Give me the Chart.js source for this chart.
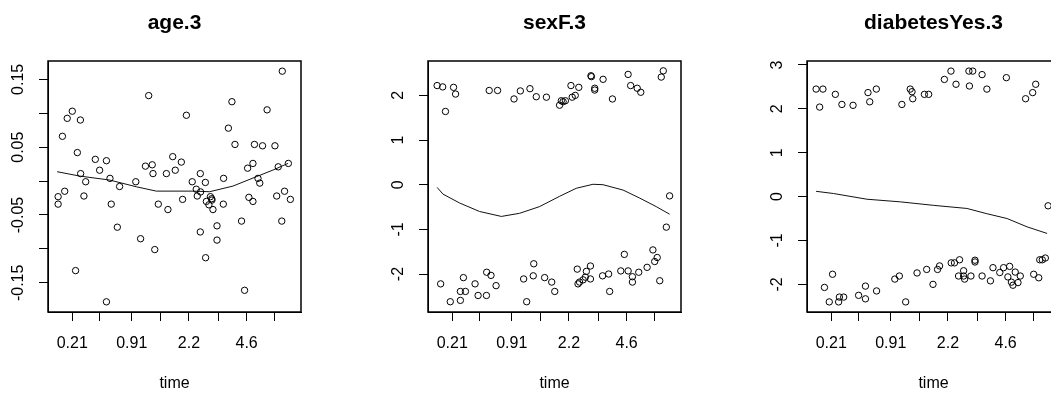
<!DOCTYPE html>
<html>
<head>
    <title>cox.zph residual plots</title>
    <meta charset="UTF-8">
    <script src="https://cdn.jsdelivr.net/npm/chart.js"></script>
    <style>
        html, body { margin: 0; padding: 0; background: #fff; overflow: hidden; width: 1051px; height: 396px; }
        canvas { position: absolute; top: 0; }
    </style>
</head>
<body>
    <canvas id="p1" width="350" height="396" style="left:0px"></canvas>
    <canvas id="p2" width="350" height="396" style="left:380px"></canvas>
    <canvas id="p3" width="350" height="396" style="left:759px"></canvas>
<script>
    // x axis: transformed time (percent of plotting range), same for all panels
    var timeTicks = [9.6, 20.3, 33.1, 44.5, 55.7, 67.4, 78.5, 89.7];
    var timeLabels = ['0.21', '', '0.91', '', '2.2', '', '4.6', ''];

    // age.3
    var ageX = [92.6, 39.8, 72.7, 9.6, 7.6, 12.8, 54.7, 86.6, 71.3, 5.7, 73.9, 81.6, 84.8, 89.7, 11.6, 18.7, 23.1, 20.4, 49.3, 52.7,
        41.2, 38.5, 41.5, 46.8, 50.3, 12.9, 14.9, 24.5, 28.3, 34.7, 60.2, 57.0, 62.2, 58.6, 60.3, 59.0, 64.2, 62.6, 64.8, 63.6,
        65.2, 69.4, 69.3, 78.9, 81.0, 83.0, 83.7, 91.0, 95.0, 4.0, 4.0, 6.6, 14.2, 25.0, 43.6, 47.4, 53.2, 79.4, 81.0, 90.4,
        93.5, 95.8, 27.4, 36.6, 42.2, 60.2, 66.8, 66.8, 76.5, 92.4, 62.3, 10.9, 23.1, 77.7, 64.7];
    var ageY = [0.162, 0.126, 0.117, 0.103, 0.0925, 0.090, 0.097, 0.105, 0.078, 0.066, 0.054, 0.054, 0.052, 0.052, 0.042, 0.032, 0.030, 0.016, 0.036, 0.028,
        0.024, 0.022, 0.011, 0.011, 0.016, 0.011, -0.001, 0.004, -0.008, -0.001, 0.011, -0.001, -0.002, -0.012, -0.016, -0.022, -0.023, -0.030, -0.028, -0.035,
        -0.042, 0.004, -0.034, 0.019, 0.026, 0.004, -0.003, 0.021, 0.026, -0.023, -0.034, -0.015, -0.022, -0.034, -0.034, -0.042, -0.027, -0.024, -0.030, -0.022,
        -0.015, -0.027, -0.068, -0.085, -0.101, -0.075, -0.066, -0.087, -0.059, -0.059, -0.113, -0.132, -0.178, -0.161, -0.026];
    var ageFitX = [3.6, 12.5, 24.4, 34.9, 42.8, 57.3, 63.9, 73.1, 82.3, 88.9, 94.9];
    var ageFitY = [0.0138, 0.0074, 0.0015, -0.0084, -0.0148, -0.0148, -0.0157, -0.0074, 0.0064, 0.0162, 0.0261];
    var ageTicks = [-0.15, -0.10, -0.05, 0, 0.05, 0.10, 0.15];
    var ageLabels = ['-0.15', '', '-0.05', '', '0.05', '', '0.15'];

    // sexF.3
    var sexX = [3.6, 5.8, 10.1, 10.9, 6.9, 24.2, 27.5, 34.0, 36.5, 40.3, 42.8, 46.8, 52.0, 52.7, 54.3, 56.5, 57.0, 58.2, 59.6, 64.4,
        64.6, 65.9, 65.9, 69.2, 72.9, 79.1, 80.1, 82.7, 84.1, 93.0, 92.2, 53.4,
        5.0, 8.8, 12.8, 12.8, 14.8, 14.0, 18.6, 19.8, 23.1, 23.2, 24.9, 26.9, 37.8, 39.0, 41.8, 41.6, 46.1, 48.9, 50.1, 59.0,
        59.3, 59.9, 61.3, 62.2, 62.6, 64.2, 64.2, 69.0, 71.4, 71.8, 76.2, 77.6, 79.1, 80.8, 80.8, 83.3, 86.6, 88.9, 89.6, 90.6,
        91.6, 94.2, 95.5];
    var sexY = [2.22, 2.19, 2.18, 2.03, 1.64, 2.11, 2.11, 1.92, 2.10, 2.15, 1.97, 1.96, 1.78, 1.88, 1.88, 2.22, 1.96, 2.00, 2.18, 2.44,
        2.42, 2.16, 2.12, 2.36, 1.92, 2.47, 2.22, 2.16, 2.07, 2.55, 2.41, 1.86,
        -2.22, -2.62, -2.59, -2.39, -2.39, -2.08, -2.22, -2.48, -2.48, -1.96, -2.03, -2.26, -2.11, -2.62, -1.77, -2.04, -2.08, -2.18, -2.39, -1.89,
        -2.22, -2.18, -2.13, -2.07, -1.94, -1.82, -2.11, -2.04, -2.00, -2.39, -1.93, -1.56, -1.93, -2.06, -2.18, -1.96, -1.85, -1.46, -1.72, -1.63,
        -2.15, -0.95, -0.25];
    var sexFitX = [3.6, 5.9, 12.5, 20.4, 29.0, 36.2, 44.1, 52.0, 58.6, 65.2, 69.2, 77.1, 83.7, 90.2, 95.5];
    var sexFitY = [-0.06, -0.21, -0.41, -0.60, -0.71, -0.64, -0.49, -0.26, -0.08, 0.01, 0.00, -0.12, -0.30, -0.49, -0.66];
    var sexTicks = [-2, -1, 0, 1, 2];
    var sexLabels = ['-2', '-1', '0', '1', '2'];

    // diabetesYes.3
    var diabX = [3.6, 6.3, 5.0, 11.2, 13.8, 18.2, 24.1, 27.4, 24.8, 37.5, 40.8, 41.5, 41.8, 46.4, 48.1, 54.3, 56.9, 58.9, 64.0, 65.5,
        64.2, 69.2, 71.1, 78.8, 86.4, 89.2, 90.4, 95.3,
        6.9, 10.1, 8.8, 12.5, 12.8, 14.5, 20.4, 23.1, 23.1, 27.5, 34.7, 36.5, 39.0, 43.5, 47.3, 51.6, 52.4, 49.8, 57.0, 58.3,
        60.3, 59.9, 61.9, 61.9, 62.3, 64.8, 66.4, 66.4, 69.2, 72.5, 73.5, 76.2, 77.7, 80.1, 79.4, 80.8, 81.4, 82.3, 83.4, 84.3,
        89.6, 91.6, 92.0, 93.0, 94.2];
    var diabY = [2.45, 2.45, 2.04, 2.33, 2.10, 2.08, 2.37, 2.45, 2.16, 2.10, 2.45, 2.39, 2.23, 2.33, 2.33, 2.67, 2.86, 2.56, 2.86, 2.86,
        2.52, 2.78, 2.45, 2.71, 2.23, 2.37, 2.56, -0.21,
        -2.07, -1.77, -2.40, -2.40, -2.29, -2.29, -2.25, -2.33, -2.04, -2.15, -1.88, -1.81, -2.40, -1.74, -1.66, -1.66, -1.58, -2.00, -1.51, -1.51,
        -1.44, -1.81, -1.69, -1.81, -1.88, -1.81, -1.45, -1.49, -1.81, -1.92, -1.62, -1.73, -1.62, -1.59, -1.83, -1.95, -2.02, -1.72, -1.96, -1.81,
        -1.77, -1.85, -1.44, -1.44, -1.40];
    var diabFitX = [3.6, 10.5, 23.7, 36.9, 50.1, 63.2, 71.1, 79.1, 87.0, 94.9];
    var diabFitY = [0.12, 0.07, -0.06, -0.12, -0.20, -0.27, -0.39, -0.50, -0.69, -0.84];
    var diabTicks = [-2, -1, 0, 1, 2, 3];
    var diabLabels = ['-2', '-1', '0', '1', '2', '3'];

    Chart.defaults.font.family = "'Liberation Sans', Arial, sans-serif";
    Chart.defaults.color = '#000';

    // full box around the plotting region, like R's box()
    var boxPlugin = {
        id: 'box',
        afterDraw: function (chart) {
            var a = chart.chartArea, c = chart.ctx;
            c.save();
            c.strokeStyle = '#000';
            c.lineWidth = 1.5;
            c.strokeRect(Math.round(a.left), Math.round(a.top), Math.round(a.right - a.left), Math.round(a.bottom - a.top));
            c.restore();
        }
    };

    function pairs(xs, ys) {
        return xs.map(function (x, i) { return { x: x, y: ys[i] }; });
    }

    function makePanel(id, title, xs, ys, fx, fy, yMin, yMax, yTicks, yLabels, yPad) {
        var ctx = document.getElementById(id).getContext('2d');
        return new Chart(ctx, {
            type: 'scatter',
            data: {
                datasets: [{
                    data: pairs(xs, ys),
                    pointStyle: 'circle',
                    pointRadius: 3.2,
                    borderColor: '#000',
                    backgroundColor: 'rgba(0,0,0,0)',
                    borderWidth: 1
                }, {
                    data: pairs(fx, fy),
                    showLine: true,
                    pointRadius: 0,
                    borderColor: '#111',
                    borderWidth: 1,
                    tension: 0
                }]
            },
            options: {
                responsive: false,
                animation: false,
                devicePixelRatio: 1,
                layout: { padding: { left: 0, right: 49, top: 0, bottom: 0 } },
                plugins: {
                    legend: { display: false },
                    tooltip: { enabled: false },
                    title: {
                        display: true,
                        text: title,
                        fullSize: false,
                        color: '#000',
                        font: { size: 21, weight: 'bold' },
                        padding: { top: 11, bottom: 24.8 }
                    }
                },
                scales: {
                    x: {
                        type: 'linear',
                        min: 0,
                        max: 100,
                        afterBuildTicks: function (s) { s.ticks = timeTicks.map(function (v) { return { value: v }; }); },
                        afterFit: function (s) { s.height = 84; },
                        ticks: {
                            autoSkip: false,
                            maxRotation: 0,
                            padding: 13,
                            color: '#000',
                            font: { size: 16 },
                            callback: function (v, i) { return timeLabels[i]; }
                        },
                        grid: { drawOnChartArea: false, drawTicks: true, tickLength: 9, color: '#000' },
                        border: { display: true, color: '#000', width: 1 },
                        title: { display: true, text: 'time', color: '#000', font: { size: 16 }, padding: { top: 0, bottom: 3 } }
                    },
                    y: {
                        type: 'linear',
                        min: yMin,
                        max: yMax,
                        afterBuildTicks: function (s) { s.ticks = yTicks.map(function (v) { return { value: v }; }); },
                        afterFit: function (s) { s.width = 48; },
                        ticks: {
                            autoSkip: false,
                            minRotation: 90,
                            maxRotation: 90,
                            crossAlign: 'center',
                            padding: yPad,
                            color: '#000',
                            font: { size: 16 },
                            callback: function (v, i) { return yLabels[i]; }
                        },
                        grid: { drawOnChartArea: false, drawTicks: true, tickLength: 9, color: '#000' },
                        border: { display: true, color: '#000', width: 1 }
                    }
                }
            },
            plugins: [boxPlugin]
        });
    }

    makePanel('p1', 'age.3', ageX, ageY, ageFitX, ageFitY, -0.193, 0.177, ageTicks, ageLabels, 2.3);
    makePanel('p2', 'sexF.3', sexX, sexY, sexFitX, sexFitY, -2.85, 2.77, sexTicks, sexLabels, 13.4);
    makePanel('p3', 'diabetesYes.3', diabX, diabY, diabFitX, diabFitY, -2.63, 3.09, diabTicks, diabLabels, 13.4);
</script>
</body>
</html>
